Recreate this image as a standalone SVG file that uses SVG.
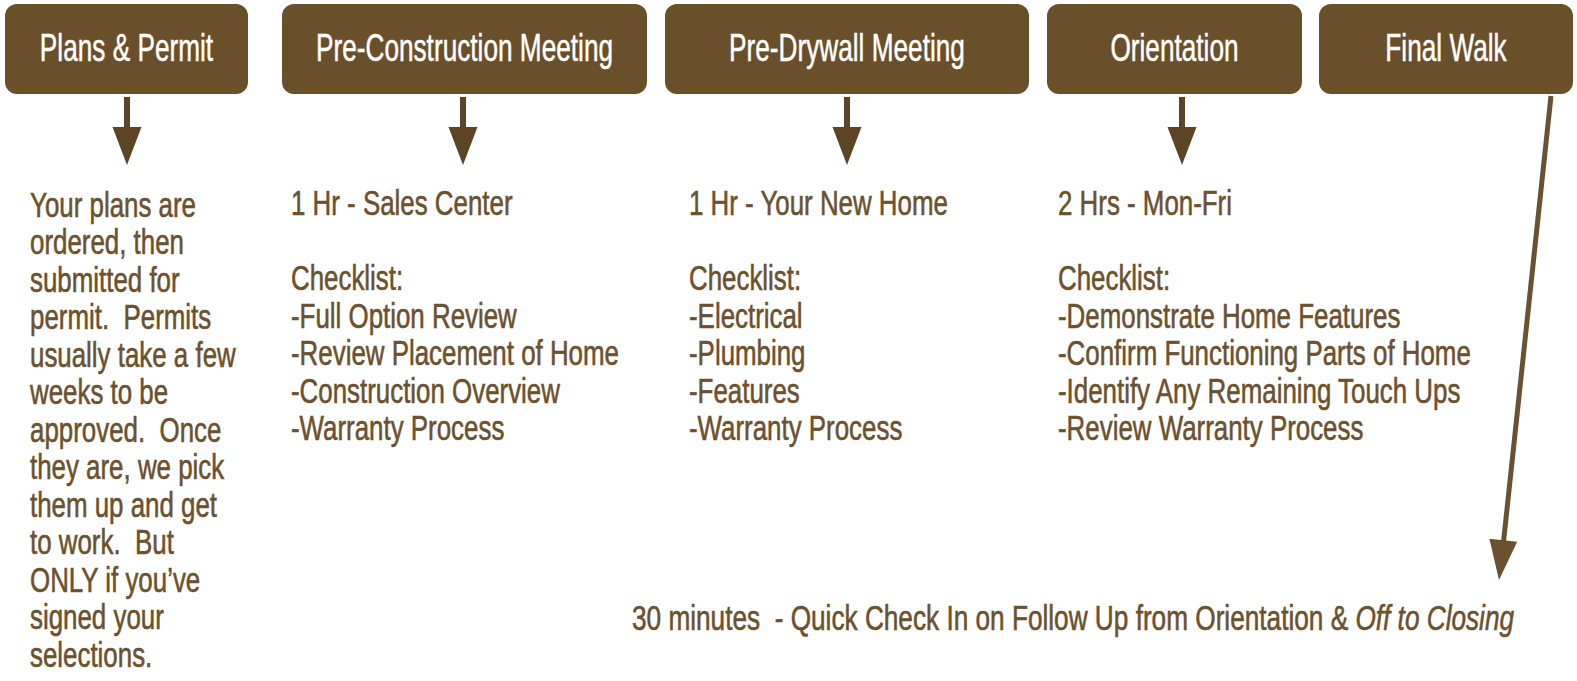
<svg xmlns="http://www.w3.org/2000/svg" width="1577" height="681" viewBox="0 0 1577 681">
<style>
.box{fill:#6a4f2b}
.title{font-family:"Liberation Sans",Arial,sans-serif;font-size:38px;fill:#ffffff;stroke:#ffffff;stroke-width:0.5px;text-anchor:middle}
.body{font-family:"Liberation Sans",Arial,sans-serif;font-size:35px;fill:#6b512d;stroke:#6b512d;stroke-width:0.6px;white-space:pre}
.arrow{fill:#5c4424}
.it{font-style:italic}
</style>
<defs>
<path id="varrow" d="M-3,97 L3,97 L3,127 L14.5,127 L0,165 L-14.5,127 L-3,127 Z"/>
</defs>
<rect width="1577" height="681" fill="#ffffff"/>
<g id="node-plans">
<rect class="box" x="5" y="4" width="243" height="90" rx="12"/>
<text class="title" transform="translate(126.5,61) scale(0.69,1)">Plans &amp; Permit</text>
</g>
<g id="node-preconstruction">
<rect class="box" x="282" y="4" width="365" height="90" rx="12"/>
<text class="title" transform="translate(464.5,61) scale(0.69,1)">Pre-Construction Meeting</text>
</g>
<g id="node-predrywall">
<rect class="box" x="665" y="4" width="364" height="90" rx="12"/>
<text class="title" transform="translate(847,61) scale(0.69,1)">Pre-Drywall Meeting</text>
</g>
<g id="node-orientation">
<rect class="box" x="1047" y="4" width="255" height="90" rx="12"/>
<text class="title" transform="translate(1174.5,61) scale(0.69,1)">Orientation</text>
</g>
<g id="node-finalwalk">
<rect class="box" x="1319" y="4" width="254" height="90" rx="12"/>
<text class="title" transform="translate(1446,61) scale(0.69,1)">Final Walk</text>
</g>
<g id="connectors">
<use href="#varrow" class="arrow" transform="translate(127,0)"/>
<use href="#varrow" class="arrow" transform="translate(463,0)"/>
<use href="#varrow" class="arrow" transform="translate(847,0)"/>
<use href="#varrow" class="arrow" transform="translate(1182,0)"/>
<line x1="1551" y1="96" x2="1503.5" y2="542" stroke="#6b5130" stroke-width="5"/>
<polygon points="1489.4,538.7 1517.2,541.7 1499,580" fill="#6b5130"/>
</g>
<g id="text-plans" transform="translate(30,0) scale(0.74,1)">
<text class="body" y="216.7">Your plans are</text>
<text class="body" y="254.2">ordered, then</text>
<text class="body" y="291.7">submitted for</text>
<text class="body" y="329.2" xml:space="preserve">permit.  Permits</text>
<text class="body" y="366.7">usually take a few</text>
<text class="body" y="404.2">weeks to be</text>
<text class="body" y="441.7" xml:space="preserve">approved.  Once</text>
<text class="body" y="479.2">they are, we pick</text>
<text class="body" y="516.7">them up and get</text>
<text class="body" y="554.2" xml:space="preserve">to work.  But</text>
<text class="body" y="591.7">ONLY if you’ve</text>
<text class="body" y="629.2">signed your</text>
<text class="body" y="666.7">selections.</text>
</g>
<g id="text-preconstruction" transform="translate(291,0) scale(0.74,1)">
<text class="body" y="215">1 Hr - Sales Center</text>
<text class="body" y="290">Checklist:</text>
<text class="body" y="327.6">-Full Option Review</text>
<text class="body" y="365.2">-Review Placement of Home</text>
<text class="body" y="402.8">-Construction Overview</text>
<text class="body" y="440.4">-Warranty Process</text>
</g>
<g id="text-predrywall" transform="translate(689,0) scale(0.74,1)">
<text class="body" y="215">1 Hr - Your New Home</text>
<text class="body" y="290">Checklist:</text>
<text class="body" y="327.6">-Electrical</text>
<text class="body" y="365.2">-Plumbing</text>
<text class="body" y="402.8">-Features</text>
<text class="body" y="440.4">-Warranty Process</text>
</g>
<g id="text-orientation" transform="translate(1058,0) scale(0.74,1)">
<text class="body" y="215">2 Hrs - Mon-Fri</text>
<text class="body" y="290">Checklist:</text>
<text class="body" y="327.6">-Demonstrate Home Features</text>
<text class="body" y="365.2">-Confirm Functioning Parts of Home</text>
<text class="body" y="402.8">-Identify Any Remaining Touch Ups</text>
<text class="body" y="440.4">-Review Warranty Process</text>
</g>
<g id="text-finalwalk" transform="translate(632,0) scale(0.74,1)">
<text class="body" y="630" xml:space="preserve" textLength="1192" lengthAdjust="spacingAndGlyphs">30 minutes  - Quick Check In on Follow Up from Orientation &amp; <tspan class="it">Off to Closing</tspan></text>
</g>
</svg>
